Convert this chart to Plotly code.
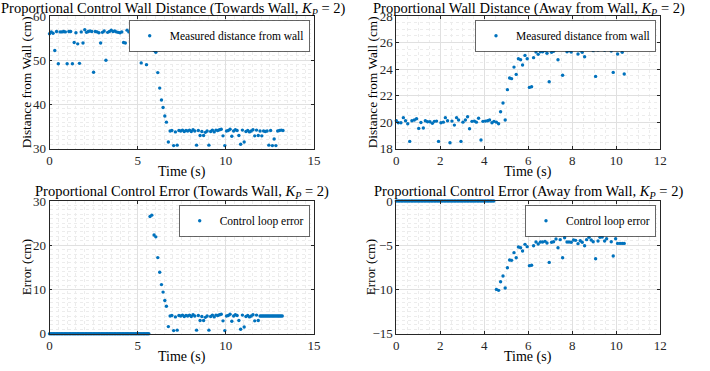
import plotly.graph_objects as go

# ---------------- data ----------------
# Towards wall: measured distance (cm)
t_tw_dist = [0.0, 0.1, 0.2, 0.3, 0.4, 0.5, 0.6, 0.7, 0.8, 0.9,
             1.0, 1.1, 1.2, 1.3, 1.4, 1.5, 1.6, 1.7, 1.8, 1.9,
             2.0, 2.1, 2.2, 2.3, 2.4, 2.5, 2.6, 2.7, 2.8, 2.9,
             3.0, 3.1, 3.2, 3.3, 3.4, 3.5, 3.6, 3.7, 3.8, 3.9,
             4.0, 4.1, 4.2, 4.3, 4.4, 4.5, 4.6, 4.7, 4.8, 4.9,
             5.0, 5.1, 5.2, 5.3, 5.4, 5.5, 5.6, 5.7, 5.8,
             5.93, 6.03, 6.14, 6.25, 6.35, 6.44, 6.54, 6.63, 6.74,
             6.84, 6.94, 7.04, 7.14, 7.24, 7.34, 7.44, 7.54, 7.64, 7.74,
             7.84, 7.94, 8.04, 8.14, 8.24, 8.34, 8.44, 8.54, 8.64, 8.74,
             8.84, 8.94, 9.04, 9.14, 9.24, 9.34, 9.44, 9.54, 9.64, 9.74,
             9.84, 9.94, 10.04, 10.14, 10.24, 10.34, 10.44, 10.54, 10.64, 10.74,
             10.84, 10.94, 11.04, 11.14, 11.24, 11.34, 11.44, 11.54, 11.64, 11.74,
             11.84, 11.94, 12.04, 12.14, 12.24, 12.34, 12.44, 12.54, 12.64, 12.74,
             12.84, 12.94, 13.04, 13.14, 13.24]
d_tw = [56.0, 56.4, 56.1, 52.2, 56.5, 49.2, 56.4, 56.4, 56.5, 56.4,
        49.2, 56.5, 56.5, 49.2, 54.0, 56.2, 53.7, 49.3, 56.4, 53.9,
        56.9, 56.3, 56.5, 56.6, 56.5, 47.3, 56.5, 56.4, 56.2, 53.9,
        56.3, 56.6, 50.0, 56.3, 56.5, 56.8, 56.5, 56.6, 56.4, 56.3,
        56.2, 56.4, 54.0, 53.9, 56.8, 56.4, 56.3, 56.4, 53.9, 56.3,
        56.5, 56.7, 49.4, 54.0, 56.5, 49.0, 56.5, 56.4, 56.8,
        52.2, 51.8, 47.2, 43.7, 41.0, 39.3, 37.4, 36.0, 31.5,
        34.0, 34.1, 30.7, 33.8, 30.8, 34.1, 34.0, 34.2, 33.9, 34.1,
        34.0, 34.2, 33.9, 34.3, 34.0, 30.8, 34.1, 33.0, 33.9, 33.0,
        33.7, 34.0, 30.8, 33.9, 34.2, 33.8, 34.2, 34.1, 34.3, 34.4,
        32.9, 30.7, 34.0, 34.1, 34.4, 32.8, 34.0, 34.3, 34.1, 33.0,
        31.0, 34.2, 31.5, 33.9, 34.1, 33.8, 34.0, 34.3, 32.9, 34.2,
        33.0, 34.0, 32.9, 34.0, 33.9, 34.0, 30.8, 34.1, 30.7, 32.2,
        30.7, 34.0, 34.1, 34.2, 34.1]

# Towards wall: control loop error (cm)
t_tw_err = [0.00, 0.08, 0.15, 0.23, 0.30, 0.38, 0.45, 0.53, 0.60, 0.68,
            0.75, 0.83, 0.90, 0.98, 1.05, 1.13, 1.20, 1.28, 1.35, 1.43,
            1.50, 1.58, 1.65, 1.73, 1.80, 1.88, 1.95, 2.03, 2.10, 2.18,
            2.25, 2.33, 2.40, 2.48, 2.55, 2.63, 2.70, 2.78, 2.85, 2.93,
            3.00, 3.08, 3.15, 3.23, 3.30, 3.38, 3.45, 3.53, 3.60, 3.68,
            3.75, 3.83, 3.90, 3.98, 4.05, 4.13, 4.20, 4.28, 4.35, 4.43,
            4.50, 4.58, 4.65, 4.73, 4.80, 4.88, 4.95, 5.03, 5.10, 5.18,
            5.25, 5.33, 5.40, 5.48, 5.55, 5.63,
            5.70, 5.80, 5.93, 6.03, 6.14, 6.25, 6.35, 6.44, 6.54, 6.63, 6.74,
            6.84, 6.94, 7.04, 7.14, 7.24, 7.34, 7.44, 7.54, 7.64, 7.74,
            7.84, 7.94, 8.04, 8.14, 8.24, 8.34, 8.44, 8.54, 8.64, 8.74,
            8.84, 8.94, 9.04, 9.14, 9.24, 9.34, 9.44, 9.54, 9.64, 9.74,
            9.84, 9.94, 10.04, 10.14, 10.24, 10.34, 10.44, 10.54, 10.64, 10.74,
            10.84, 10.94, 11.04, 11.14, 11.24, 11.34, 11.44, 11.54, 11.64, 11.74,
            11.84, 11.94, 12.01, 12.08, 12.15, 12.22, 12.29, 12.36, 12.43, 12.50,
            12.57, 12.64, 12.71, 12.78, 12.85, 12.92, 12.99, 13.06, 13.13, 13.20]
e_tw = [0, 0, 0, 0, 0, 0, 0, 0, 0, 0,
        0, 0, 0, 0, 0, 0, 0, 0, 0, 0,
        0, 0, 0, 0, 0, 0, 0, 0, 0, 0,
        0, 0, 0, 0, 0, 0, 0, 0, 0, 0,
        0, 0, 0, 0, 0, 0, 0, 0, 0, 0,
        0, 0, 0, 0, 0, 0, 0, 0, 0, 0,
        0, 0, 0, 0, 0, 0, 0, 0, 0, 0,
        0, 0, 0, 0, 0, 0,
        26.5, 26.8, 22.3, 21.9, 17.2, 13.9, 11.1, 9.4, 7.5, 6.2, 1.6,
        4.0, 4.1, 0.7, 3.8, 0.8, 4.1, 4.0, 4.2, 3.9, 4.1,
        4.0, 4.2, 3.9, 4.3, 4.0, 0.8, 4.1, 3.0, 3.9, 3.0,
        3.7, 4.0, 0.8, 3.9, 4.2, 3.8, 4.2, 4.1, 4.3, 4.4,
        2.9, 0.7, 4.0, 4.1, 4.4, 2.8, 4.0, 4.3, 4.1, 3.0,
        1.0, 4.2, 1.5, 3.9, 4.1, 3.8, 4.0, 4.3, 2.9, 4.2,
        3.0, 4.0, 4.0, 4.0, 4.0, 4.0, 4.0, 4.0, 4.0, 4.0,
        4.0, 4.0, 4.0, 4.0, 4.0, 4.0, 4.0, 4.0, 4.0, 4.0]

# Away from wall: measured distance (cm)
t_aw_dist = [0.00, 0.09, 0.21, 0.32, 0.42, 0.52, 0.61, 0.71, 0.82, 0.92,
             1.02, 1.12, 1.23, 1.32, 1.42, 1.53, 1.64, 1.73, 1.83, 1.92,
             2.03, 2.14, 2.23, 2.33, 2.44, 2.53, 2.64, 2.74, 2.83, 2.94,
             3.03, 3.14, 3.24, 3.33, 3.44, 3.55, 3.64, 3.74, 3.85, 3.94,
             4.05, 4.15, 4.24, 4.35, 4.44, 4.55, 4.65, 4.74, 4.85, 4.95,
             5.05, 5.15, 5.24, 5.35, 5.45, 5.55, 5.65, 5.74, 5.85, 5.95,
             6.05, 6.15, 6.24, 6.35, 6.45, 6.55, 6.65, 6.76, 6.85, 6.95,
             7.06, 7.15, 7.26, 7.35, 7.45, 7.56, 7.65, 7.76, 7.85, 7.95,
             8.06, 8.15, 8.26, 8.36, 8.45, 8.56, 8.65, 8.76, 8.86, 8.95,
             9.06, 9.17, 9.26, 9.36, 9.47, 9.56, 9.67, 9.77, 9.86, 9.97,
             10.06, 10.17, 10.27, 10.36]
d_aw = [20.11, 19.96, 19.96, 20.34, 20.11, 19.88, 18.55, 20.11, 20.16, 20.26,
        19.53, 19.98, 19.56, 20.11, 20.03, 20.03, 19.91, 20.06, 20.08, 18.55,
        19.96, 20.00, 20.34, 20.11, 18.45, 20.08, 19.78, 20.34, 20.16, 18.55,
        20.00, 20.16, 20.41, 19.50, 20.06, 20.08, 20.00, 20.29, 18.65, 20.06,
        20.08, 20.11, 20.16, 19.96, 20.06, 20.00, 19.88, 20.79, 21.44, 20.16,
        22.45, 23.33, 23.28, 24.15, 23.60, 24.78, 24.70, 24.31, 25.03, 24.78,
        22.62, 22.67, 24.86, 25.29, 25.11, 25.31, 25.31, 25.39, 25.19, 23.05,
        25.26, 25.34, 25.56, 24.70, 25.54, 23.53, 25.76, 25.31, 25.39, 25.29,
        25.54, 25.51, 25.14, 25.44, 25.26, 24.93, 25.54, 25.76, 25.54, 25.39,
        23.45, 25.44, 25.84, 25.89, 25.41, 25.69, 26.24, 25.36, 23.75, 25.69,
        25.14, 25.69, 25.26, 23.63]

# Away from wall: control loop error (cm)
t_aw_err = [0.00, 0.08, 0.15, 0.23, 0.30, 0.38, 0.45, 0.53, 0.60, 0.68,
            0.75, 0.83, 0.90, 0.98, 1.05, 1.13, 1.20, 1.28, 1.35, 1.43,
            1.50, 1.58, 1.65, 1.73, 1.80, 1.88, 1.95, 2.03, 2.10, 2.18,
            2.25, 2.33, 2.40, 2.48, 2.55, 2.63, 2.70, 2.78, 2.85, 2.93,
            3.00, 3.08, 3.15, 3.23, 3.30, 3.38, 3.45, 3.53, 3.60, 3.68,
            3.75, 3.83, 3.90, 3.98, 4.05, 4.13, 4.20, 4.28, 4.35, 4.43,
            4.55, 4.65, 4.74, 4.85, 4.95, 5.05, 5.15, 5.24, 5.35, 5.45,
            5.55, 5.65, 5.74, 5.85, 5.95, 6.05, 6.15, 6.24, 6.35, 6.45,
            6.55, 6.65, 6.76, 6.85, 6.95, 7.06, 7.15, 7.26, 7.35, 7.45,
            7.56, 7.65, 7.76, 7.85, 7.95, 8.06, 8.15, 8.26, 8.36, 8.45,
            8.56, 8.65, 8.76, 8.86, 8.95, 9.06, 9.17, 9.26, 9.36, 9.47,
            9.56, 9.67, 9.77, 9.86, 9.97, 10.06, 10.17, 10.27, 10.36]
e_aw = [0, 0, 0, 0, 0, 0, 0, 0, 0, 0,
        0, 0, 0, 0, 0, 0, 0, 0, 0, 0,
        0, 0, 0, 0, 0, 0, 0, 0, 0, 0,
        0, 0, 0, 0, 0, 0, 0, 0, 0, 0,
        0, 0, 0, 0, 0, 0, 0, 0, 0, 0,
        0, 0, 0, 0, 0, 0, 0, 0, 0, 0,
        -9.99, -10.10, -9.12, -8.48, -9.84, -7.54, -6.67, -6.71, -5.84, -6.41,
        -5.20, -5.28, -5.65, -4.90, -5.16, -7.31, -7.27, -5.05, -4.64, -4.86,
        -4.64, -4.64, -4.56, -4.75, -6.94, -4.67, -4.60, -4.30, -5.28, -4.37,
        -6.41, -4.15, -4.64, -4.64, -4.67, -4.41, -4.45, -4.82, -4.49, -4.67,
        -5.05, -4.37, -4.11, -4.41, -4.60, -6.52, -4.52, -4.11, -4.07, -4.52,
        -4.26, -3.69, -4.60, -6.22, -4.26, -4.79, -4.79, -4.79, -4.79]

titles = [
    "Proportional Control Wall Distance (Towards Wall, <i>K</i><sub><i>P</i></sub> = 2)",
    "Proportional Wall Distance (Away from Wall, <i>K</i><sub><i>P</i></sub> = 2)",
    "Proportional Control Error (Towards Wall, <i>K</i><sub><i>P</i></sub> = 2)",
    "Proportional Control Error (Away from Wall, <i>K</i><sub><i>P</i></sub> = 2)",
]
ylabels = ["Distance from Wall (cm)", "Distance from Wall (cm)", "Error (cm)", "Error (cm)"]
legend_names = ["Measured distance from wall", "Measured distance from wall",
                "Control loop error", "Control loop error"]
x_ranges = [[0, 15], [0, 12], [0, 15], [0, 12]]
x_dticks = [5, 2, 5, 2]
y_ranges = [[30, 60], [18, 28], [0, 30], [-15, 0]]
y_dticks = [10, 2, 10, 5]
x_minor = [0.5, 0.5, 0.5, 0.5]
y_minor = [1, 0.5, 1, 0.5]

# ---------------- layout ----------------
W, H = 710, 371
FONT = "Liberation Serif"
BLUE = "#0072BD"
AX = "#262626"

# pixel boxes (left, right, top, bottom)
boxes = [(49.5, 314, 16, 148.7), (396.3, 660.3, 16, 148.7),
         (49.5, 314, 201, 333.7), (396.3, 660.3, 201, 333.7)]
title_cx = [173, 528.5, 181.5, 528.5]
title_cy = [9, 9, 192, 192]
xlabel_cy = [172.5, 172.5, 357, 357]
ylabel_cx = [26, 372, 26, 370]

fig = go.Figure()
series = [(t_tw_dist, d_tw), (t_aw_dist, d_aw), (t_tw_err, e_tw), (t_aw_err, e_aw)]
layout = dict(template="none", width=W, height=H,
              margin=dict(l=0, r=0, t=0, b=0, autoexpand=False),
              paper_bgcolor="white", plot_bgcolor="white",
              font=dict(family=FONT, color="black"), showlegend=True)
annotations = []

for i, ((tx, ty), (l, r, t, b)) in enumerate(zip(series, boxes)):
    n = "" if i == 0 else str(i + 1)
    leg = "legend" if i == 0 else f"legend{i + 1}"
    fig.add_trace(go.Scatter(
        x=tx, y=ty, mode="markers", name=legend_names[i],
        marker=dict(color=BLUE, size=3.4, line=dict(width=0)),
        xaxis=f"x{n}", yaxis=f"y{n}", legend=leg, cliponaxis=False))
    common = dict(showline=True, linecolor=AX, linewidth=0.7, mirror="ticks",
                  ticks="inside", ticklen=3, tickcolor=AX, tickwidth=0.7,
                  showgrid=True, gridcolor="#e0e0e0", gridwidth=0.7,
                  automargin=False, zeroline=False,
                  tickfont=dict(family=FONT, size=13, color=AX))
    layout[f"xaxis{n}"] = dict(common, domain=[l / W, r / W], anchor=f"y{n}",
                               range=x_ranges[i], dtick=x_dticks[i], tick0=0,
                               minor=dict(dtick=x_minor[i], showgrid=True,
                                          gridcolor="#ececec", griddash="dot", gridwidth=0.7))
    layout[f"yaxis{n}"] = dict(common, domain=[1 - b / H, 1 - t / H], anchor=f"x{n}",
                               range=y_ranges[i], dtick=y_dticks[i], tick0=0,
                               minor=dict(dtick=y_minor[i], showgrid=True,
                                          gridcolor="#ececec", griddash="dot", gridwidth=0.7))
    layout[leg] = dict(x=(r - 4) / W, y=1 - (t + 4.5) / H, xanchor="right", yanchor="top",
                       bgcolor="white", bordercolor=AX, borderwidth=0.7,
                       font=dict(family=FONT, size=11.5, color="black"),
                       itemwidth=30, tracegroupgap=0)
    annotations.append(dict(text=titles[i], x=title_cx[i] / W, y=1 - title_cy[i] / H,
                            xref="paper", yref="paper", showarrow=False,
                            xanchor="center", yanchor="middle", borderpad=0,
                            font=dict(family=FONT, size=14.5, color="black")))
    annotations.append(dict(text="Time (s)", x=(l + r) / 2 / W, y=1 - xlabel_cy[i] / H,
                            xref="paper", yref="paper", showarrow=False,
                            xanchor="center", yanchor="middle", borderpad=0,
                            font=dict(family=FONT, size=14, color="black")))
    annotations.append(dict(text=ylabels[i], x=ylabel_cx[i] / W, y=1 - (t + b) / 2 / H,
                            xref="paper", yref="paper", showarrow=False, textangle=-90,
                            xanchor="center", yanchor="middle", borderpad=0,
                            font=dict(family=FONT, size=13.3, color="black")))

layout["annotations"] = annotations
fig.update_layout(**layout)
fig.write_html("out.html", config={"displayModeBar": False},
               post_script="document.body.style.margin='0';document.body.style.overflow='hidden';")
